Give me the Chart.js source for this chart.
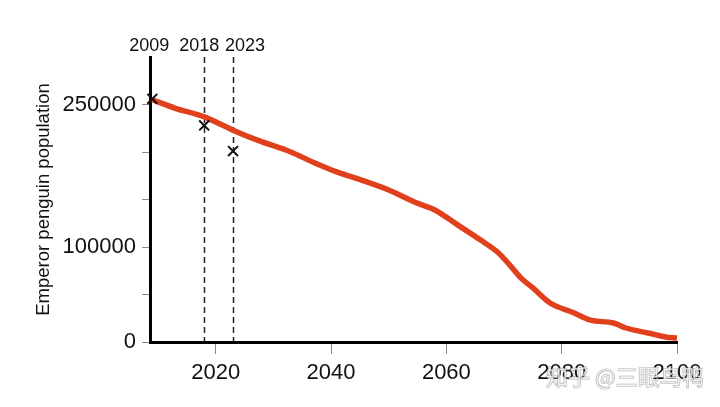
<!DOCTYPE html>
<html>
<head>
<meta charset="utf-8">
<script src="https://cdn.jsdelivr.net/npm/chart.js@4"></script>
<style>
html,body{margin:0;padding:0;background:#fff;}
#wrap{width:720px;height:407px;position:relative;}
</style>
</head>
<body>
<div id="wrap"><canvas id="c" width="720" height="407"></canvas></div>
<script>
// Data
const years = [2009, 2013, 2018, 2023, 2027, 2033, 2037, 2041, 2044, 2050, 2055, 2058, 2062, 2066, 2069, 2071, 2073, 2075, 2078, 2082, 2085, 2089, 2091, 2095, 2098, 2100];
const population = [255000, 246000, 237000, 223000, 213000, 200000, 189000, 179000, 173000, 160000, 146000, 139000, 123000, 107000, 94000, 81000, 67000, 57000, 41000, 31000, 23000, 20000, 15000, 9500, 5300, 4200];
const markerYears = [2009, 2018, 2023];
const markerValues = [256000, 228000, 201000];
const markerLabels = ['2009', '2018', '2023'];
const dashedYears = [2018, 2023];
const xTickValues = [2020, 2040, 2060, 2080, 2100];
const yTickValues = [0, 50000, 100000, 150000, 200000, 250000];
const yLabelled = [0, 100000, 250000];
const yTitle = 'Emperor penguin population';
const watermark = '知乎 @三眼鸟鸭';

const FONT = "'Liberation Sans', Arial, sans-serif";

const overlay = {
  id: 'overlay',
  beforeDatasetsDraw(chart) {
    const ctx = chart.ctx, xs = chart.scales.x;
    ctx.save();
    ctx.strokeStyle = '#222';
    ctx.lineWidth = 1.5;
    ctx.setLineDash([6, 4]);
    dashedYears.forEach(yr => {
      const px = Math.round(xs.getPixelForValue(yr)) + 0.5;
      ctx.beginPath();
      ctx.moveTo(px, chart.chartArea.top);
      ctx.lineTo(px, chart.chartArea.bottom);
      ctx.stroke();
    });
    ctx.restore();
  },
  afterDraw(chart) {
    const ctx = chart.ctx, xs = chart.scales.x;
    ctx.save();
    ctx.fillStyle = '#111';
    ctx.font = '18px ' + FONT;
    ctx.textBaseline = 'middle';
    ctx.textAlign = 'center';
    const offs = [-3, -5, 12];
    markerLabels.forEach((t, i) => {
      ctx.fillText(t, xs.getPixelForValue(markerYears[i]) + offs[i], 46);
    });
    // watermark
    ctx.font = '22px "Noto Sans CJK SC", sans-serif';
    ctx.textAlign = 'left';
    ctx.lineWidth = 1.2;
    ctx.strokeStyle = 'rgba(110,110,110,0.55)';
    ctx.fillStyle = 'rgba(255,255,255,0.75)';
    ctx.strokeText(watermark, 546, 377);
    ctx.fillText(watermark, 546, 377);
    ctx.restore();
  }
};

new Chart(document.getElementById('c'), {
  type: 'scatter',
  data: {
    datasets: [
      {
        data: years.map((y, i) => ({x: y, y: population[i]})),
        showLine: true,
        borderColor: '#E0401C',
        borderWidth: 5.5,
        pointRadius: 0,
        cubicInterpolationMode: 'monotone',
        borderCapStyle: 'butt',
        borderJoinStyle: 'round',
        order: 2
      },
      {
        data: markerYears.map((y, i) => ({x: y, y: markerValues[i]})),
        showLine: false,
        pointStyle: 'crossRot',
        pointRadius: 7,
        borderColor: '#111',
        borderWidth: 2,
        clip: false,
        order: 1
      }
    ]
  },
  options: {
    responsive: false,
    animation: false,
    devicePixelRatio: 1,
    layout: {padding: {top: 57, right: 43, left: 0, bottom: 0}},
    plugins: {legend: {display: false}, tooltip: {enabled: false}},
    scales: {
      x: {
        type: 'linear',
        min: 2008.6,
        max: 2100,
        afterBuildTicks(s) { s.ticks = xTickValues.map(v => ({value: v})); },
        afterFit(s) { s.height = 65; },
        grid: {drawOnChartArea: false, drawTicks: true, tickLength: 12, color: '#888', lineWidth: 1},
        border: {color: '#000', width: 3},
        ticks: {color: '#111', font: {size: 22, family: FONT}, padding: 6, maxRotation: 0, callback: v => String(v)}
      },
      y: {
        min: 0,
        max: 300000,
        afterBuildTicks(s) { s.ticks = yTickValues.map(v => ({value: v})); },
        afterFit(s) { s.width = 150; },
        grid: {drawOnChartArea: false, drawTicks: true, tickLength: 8, color: '#888', lineWidth: 1},
        border: {color: '#000', width: 3},
        ticks: {color: '#111', font: {size: 22, family: FONT}, padding: 6,
          callback: v => yLabelled.includes(v) ? String(v) : ''},
        title: {display: true, text: yTitle, color: '#111', font: {size: 18.5, family: FONT}, padding: {top: 33, bottom: 0}}
      }
    }
  },
  plugins: [overlay]
});
</script>
</body>
</html>
